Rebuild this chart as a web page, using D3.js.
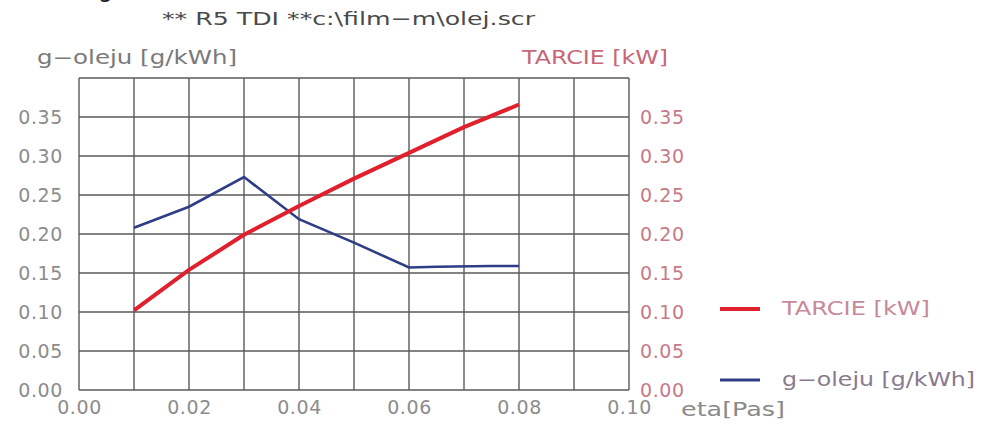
<!DOCTYPE html>
<html>
<head>
<meta charset="utf-8">
<script src="https://cdn.jsdelivr.net/npm/d3@7"></script>
<style>
  body { margin: 0; background: #fff; }
  text { font-family: "DejaVu Sans", sans-serif; }
</style>
</head>
<body>
<div id="chart"></div>
<script>
// eta [Pas] values where each series was measured
const etaTarcie = [0.01, 0.02, 0.03, 0.04, 0.05, 0.06, 0.07, 0.08];
const tarcie = [0.102, 0.154, 0.199, 0.236, 0.271, 0.304, 0.337, 0.366];

const etaOleju = [0.01, 0.02, 0.03, 0.04, 0.05, 0.06, 0.065, 0.075, 0.08];
const gOleju = [0.208, 0.235, 0.273, 0.219, 0.189, 0.157, 0.158, 0.159, 0.159];

const xTicks = [0, 0.02, 0.04, 0.06, 0.08, 0.10];
const yTicks = [0, 0.05, 0.10, 0.15, 0.20, 0.25, 0.30, 0.35];

const title = "** R5  TDI  **c:\\film\u2212m\\olej.scr";
const leftLabel = "g\u2212oleju [g/kWh]";
const rightLabel = "TARCIE [kW]";
const xLabel = "eta[Pas]";

const width = 982, height = 429;
const margin = { top: 78, left: 79, right: 353, bottom: 39 };

const svg = d3.select("#chart").append("svg")
  .attr("width", width)
  .attr("height", height);

let x = d3.scaleLinear().domain([0, 0.10]).range([margin.left, width - margin.right]);
let y = d3.scaleLinear().domain([0, 0.40]).range([height - margin.bottom, margin.top]);

// grid
const grid = svg.append("g").attr("stroke", "#5a5a5a").attr("stroke-width", 1.4);
grid.selectAll(".v").data(d3.range(0, 11))
  .join("line")
  .attr("x1", d => x(d / 100)).attr("x2", d => x(d / 100))
  .attr("y1", y(0)).attr("y2", y(0.40));
grid.selectAll(".h").data(d3.range(0, 9))
  .join("line")
  .attr("y1", d => y(d * 0.05)).attr("y2", d => y(d * 0.05))
  .attr("x1", x(0)).attr("x2", x(0.10));

// axes (domain/ticks hidden, labels only)
let yLeft = d3.axisLeft(y).tickValues(yTicks).tickFormat(d3.format(".2f")).tickSize(0).tickPadding(16);
let yRight = d3.axisRight(y).tickValues(yTicks).tickFormat(d3.format(".2f")).tickSize(0).tickPadding(11);
let xAxis = d3.axisBottom(x).tickValues(xTicks).tickFormat(d3.format(".2f")).tickSize(0).tickPadding(11);

function styleAxis(g, color) {
  g.select(".domain").remove();
  g.selectAll("text")
    .attr("fill", color)
    .style("font-size", "19px")
    .style("letter-spacing", "0.6px");
}

svg.append("g").attr("transform", `translate(${x(0)},0)`).call(yLeft).call(g => styleAxis(g, "#8c8c8c"));
svg.append("g").attr("transform", `translate(${x(0.10)},0)`).call(yRight).call(g => styleAxis(g, "#c77a88"));
svg.append("g").attr("transform", `translate(0,${y(0)})`).call(xAxis).call(g => styleAxis(g, "#8c8c8c"));

// lines
const line = d3.line().x(d => x(d[0])).y(d => y(d[1]));

svg.append("path")
  .datum(etaOleju.map((e, i) => [e, gOleju[i]]))
  .attr("fill", "none").attr("stroke", "#2e3d85").attr("stroke-width", 2.6)
  .attr("d", line);

svg.append("path")
  .datum(etaTarcie.map((e, i) => [e, tarcie[i]]))
  .attr("fill", "none").attr("stroke", "#e0202c").attr("stroke-width", 4)
  .attr("stroke-linejoin", "round")
  .attr("d", line);

// texts
svg.append("text").attr("x", 98).attr("y", -3).attr("fill", "#222").style("font-size", "24px").text("g");

svg.append("text").attr("x", 162).attr("y", 25)
  .attr("fill", "#4a4a4a").style("font-size", "18px")
  .attr("textLength", 373).attr("lengthAdjust", "spacingAndGlyphs")
  .text(title);

svg.append("text").attr("x", 37).attr("y", 64)
  .attr("fill", "#7a7a7a").style("font-size", "19px")
  .attr("textLength", 200).attr("lengthAdjust", "spacingAndGlyphs")
  .text(leftLabel);

svg.append("text").attr("x", 522).attr("y", 64)
  .attr("fill", "#c66878").style("font-size", "19px")
  .attr("textLength", 146).attr("lengthAdjust", "spacingAndGlyphs")
  .text(rightLabel);

svg.append("text").attr("x", 681).attr("y", 416)
  .attr("fill", "#8a8a8a").style("font-size", "19px")
  .attr("textLength", 104).attr("lengthAdjust", "spacingAndGlyphs")
  .text(xLabel);

// legend
const legend = [
  { label: rightLabel, color: "#e0202c", w: 4, y: 309, text: "#c88a98", len: 148 },
  { label: leftLabel, color: "#2e3d85", w: 3, y: 380, text: "#8a7a8c", len: 193 }
];
const lg = svg.append("g").selectAll("g").data(legend).join("g");
lg.append("line")
  .attr("x1", 720).attr("x2", 760)
  .attr("y1", d => d.y).attr("y2", d => d.y)
  .attr("stroke", d => d.color).attr("stroke-width", d => d.w);
lg.append("text")
  .attr("x", 782).attr("y", d => d.y + 6)
  .attr("fill", d => d.text).style("font-size", "19px")
  .attr("textLength", d => d.len).attr("lengthAdjust", "spacingAndGlyphs")
  .text(d => d.label);
</script>
</body>
</html>
